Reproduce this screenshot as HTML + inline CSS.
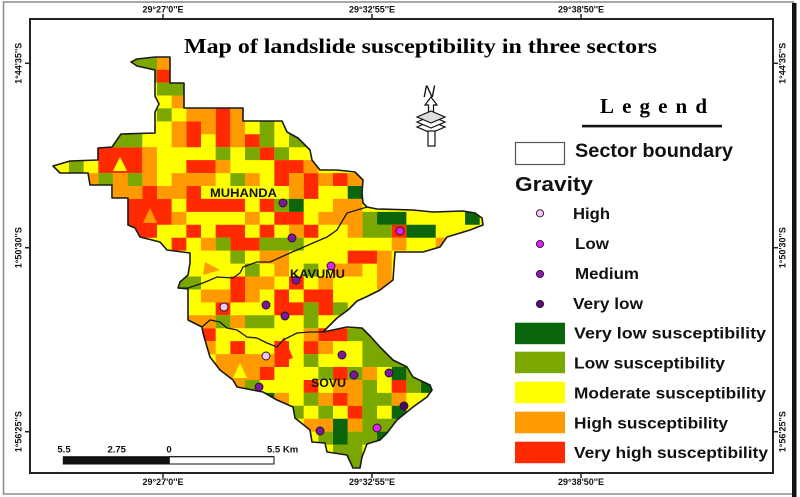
<!DOCTYPE html>
<html>
<head>
<meta charset="utf-8">
<style>
html,body{margin:0;padding:0;background:#fff;}
body{width:800px;height:497px;overflow:hidden;}
svg{display:block;}
.t{font-family:"Liberation Sans",Arial,sans-serif;font-weight:bold;fill:#111;}
.s{font-family:"Liberation Serif","Times New Roman",serif;font-weight:bold;fill:#000;}
</style>
</head>
<body>
<svg width="800" height="497" viewBox="0 0 800 497" xmlns="http://www.w3.org/2000/svg">
<defs>
<clipPath id="mc">
<polygon points="131,62 137,59 155,57 170,57 170,83 184,83 184,108 243,108 243,121 282,121 287,132 298,138 310,150 312,160 320,170 337,170 355,172 363,180 362,193 363,203 367,207 377,209 413,210 433,212 463,211 475,213 482,218 483,225 470,230 447,237 440,247 423,252 395,252 394,266 393,280 380,290 366,297 357,301 348,310 337,318 323,332 347,327 362,328 371,337 380,347 393,360 407,367 413,377 430,385 432,390 427,397 413,407 397,420 387,433 380,440 367,444 362,457 360,468 353,468 347,455 327,452 325,443 312,442 310,430 295,418 293,407 277,400 263,392 237,387 233,380 220,370 210,357 207,347 203,333 202,327 188,320 188,289 178,288 180,282 188,275 190,263 190,253 167,250 160,242 140,237 135,228 128,225 128,198 112,198 112,185 90,185 88,173 60,173 53,166 70,161 98,160 98,148 112,147 121,134 155,133 155,112 159,104 155,96 155,70 137,66"/>
</clipPath>
</defs>

<!-- outer frame -->
<rect x="3.5" y="2" width="790" height="492" fill="none" stroke="#8a8a8a" stroke-width="1.5"/>
<rect x="792" y="3" width="4.5" height="494" fill="#111"/>
<!-- inner frame -->
<rect x="30" y="19" width="743" height="454" fill="none" stroke="#222" stroke-width="2"/>

<!-- ticks -->
<g stroke="#222" stroke-width="1.5">
<line x1="163" y1="14" x2="163" y2="19"/><line x1="372" y1="14" x2="372" y2="19"/><line x1="581" y1="14" x2="581" y2="19"/>
<line x1="163" y1="473" x2="163" y2="478"/><line x1="372" y1="473" x2="372" y2="478"/><line x1="581" y1="473" x2="581" y2="478"/>
<line x1="25" y1="63.3" x2="30" y2="63.3"/><line x1="25" y1="247.7" x2="30" y2="247.7"/><line x1="25" y1="431.7" x2="30" y2="431.7"/>
<line x1="773" y1="63.3" x2="778" y2="63.3"/><line x1="773" y1="247.7" x2="778" y2="247.7"/><line x1="773" y1="431.7" x2="778" y2="431.7"/>
</g>
<g class="t" font-size="9" text-anchor="middle">
<text x="163" y="12.5">29°27'0''E</text>
<text x="372" y="12.5">29°32'55''E</text>
<text x="581" y="12.5">29°38'50''E</text>
<text x="163" y="485">29°27'0''E</text>
<text x="372" y="485">29°32'55''E</text>
<text x="581" y="485">29°38'50''E</text>
<text transform="translate(21.5 63.3) rotate(-90)">1°44'35''S</text>
<text transform="translate(21.5 247.7) rotate(-90)">1°50'30''S</text>
<text transform="translate(21.5 431.7) rotate(-90)">1°56'25''S</text>
<text transform="translate(785.5 63.3) rotate(-90)">1°44'35''S</text>
<text transform="translate(785.5 247.7) rotate(-90)">1°50'30''S</text>
<text transform="translate(785.5 431.7) rotate(-90)">1°56'25''S</text>
</g>

<!-- title -->
<text class="s" x="184" y="53" font-size="21" textLength="473" lengthAdjust="spacingAndGlyphs">Map of landslide susceptibility in three sectors</text>

<!-- map grid -->
<g clip-path="url(#mc)">
<rect x="40" y="50" width="460" height="430" fill="#ffff00"/>
<g transform="translate(54.3 56.7) scale(14.67 12.93)">
<path fill="#ff2a00" d="M7 1h1v1h-1z M11 4h1v1h-1z M9 5h1v1h-1z M11 5h1v1h-1z M9 6h1v1h-1z M11 6h1v1h-1z M13 6h1v1h-1z M3 7h3v1h-3z M14 7h1v1h-1z M3 8h3v1h-3z M9 8h2v1h-2z M15 8h2v1h-2z M15 9h1v1h-1z M17 9h1v1h-1z M19 9h1v1h-1z M6 10h1v1h-1z M9 10h1v1h-1z M17 10h1v1h-1z M5 11h3v1h-3z M9 11h4v1h-4z M14 11h1v1h-1z M4 12h4v1h-4z M15 12h2v1h-2z M5 13h2v1h-2z M9 13h1v1h-1z M11 13h2v1h-2z M14 13h1v1h-1z M17 13h1v1h-1z M23 13h1v1h-1z M8 14h1v1h-1z M12 14h2v1h-2z M20 15h2v1h-2z M12 17h1v1h-1z M16 17h1v1h-1z M12 18h1v1h-1z M15 18h1v1h-1z M17 18h2v1h-2z M11 19h1v1h-1z M15 19h2v1h-2z M18 19h1v1h-1z M10 21h1v1h-1z M18 21h2v1h-2z M12 22h1v1h-1z M15 22h1v1h-1z M17 22h1v1h-1z M15 23h1v1h-1z M14 24h1v1h-1z M19 24h1v1h-1z M17 25h1v1h-1z M23 25h1v1h-1z M19 26h1v1h-1z M20 27h1v1h-1z"/>
<path fill="#ff9a00" d="M7 0h1v1h-1z M8 3h1v1h-1z M9 4h2v1h-2z M12 4h1v1h-1z M8 5h1v1h-1z M10 5h1v1h-1z M12 5h1v1h-1z M8 6h1v1h-1z M12 6h1v1h-1z M6 7h1v1h-1z M6 8h1v1h-1z M11 8h1v1h-1z M17 8h1v1h-1z M1 9h2v1h-2z M4 9h1v1h-1z M6 9h1v1h-1z M8 9h3v1h-3z M13 9h1v1h-1z M16 9h1v1h-1z M18 9h1v1h-1z M20 9h1v1h-1z M4 10h2v1h-2z M7 10h2v1h-2z M16 10h1v1h-1z M19 11h2v1h-2z M8 12h1v1h-1z M13 12h1v1h-1z M18 12h3v1h-3z M16 13h1v1h-1z M20 13h1v1h-1z M10 14h1v1h-1z M23 14h1v1h-1z M26 14h1v1h-1z M14 15h2v1h-2z M22 15h1v1h-1z M15 16h1v1h-1z M19 16h2v1h-2z M22 16h1v1h-1z M13 17h2v1h-2z M18 17h1v1h-1z M22 17h1v1h-1z M10 18h2v1h-2z M13 18h1v1h-1z M9 20h2v1h-2z M12 20h1v1h-1z M17 21h1v1h-1z M10 22h1v1h-1z M18 22h1v1h-1z M11 23h4v1h-4z M11 24h3v1h-3z M21 24h1v1h-1z M12 25h1v1h-1z M19 25h2v1h-2z M15 26h1v1h-1z M18 26h1v1h-1z M20 26h1v1h-1z M23 26h1v1h-1z M17 28h2v1h-2z M20 28h1v1h-1z"/>
<path fill="#7aa800" d="M5 0h2v1h-2z M6 1h1v1h-1z M7 2h2v1h-2z M7 4h1v1h-1z M14 5h1v1h-1z M16 5h1v1h-1z M4 6h2v1h-2z M14 6h1v1h-1z M16 6h2v1h-2z M11 7h1v1h-1z M13 7h1v1h-1z M15 7h1v1h-1z M1 8h1v1h-1z M3 9h1v1h-1z M5 9h1v1h-1z M12 9h1v1h-1z M15 11h1v1h-1z M21 12h1v1h-1z M21 13h2v1h-2z M11 14h1v1h-1z M14 14h3v1h-3z M12 15h1v1h-1z M13 16h1v1h-1z M17 16h1v1h-1z M8 17h2v1h-2z M17 19h1v1h-1z M19 19h1v1h-1z M11 20h1v1h-1z M13 20h2v1h-2z M17 20h1v1h-1z M20 21h2v1h-2z M21 22h2v1h-2z M17 23h1v1h-1z M21 23h3v1h-3z M18 24h1v1h-1z M20 24h1v1h-1z M24 24h1v1h-1z M13 25h1v1h-1z M21 25h1v1h-1z M24 25h1v1h-1z M17 26h1v1h-1z M21 26h2v1h-2z M16 27h1v1h-1z M18 27h1v1h-1z M21 27h1v1h-1z M21 28h3v1h-3z M18 29h1v1h-1z M20 29h2v1h-2z M19 30h2v1h-2z M20 31h1v1h-1z"/>
<path fill="#0b660b" d="M20 10h1v1h-1z M16 11h1v1h-1z M22 12h2v1h-2z M28 12h1v1h-1z M24 13h2v1h-2z M23 24h1v1h-1z M25 25h1v1h-1z M14 26h1v1h-1z M23 27h1v1h-1z M19 28h1v1h-1z M19 29h1v1h-1z M22 29h1v1h-1z M19 31h1v1h-1z"/>
</g>
<!-- triangles -->
<polygon points="120,157 113,171 127,171" fill="#ffff00"/>
<polygon points="150,208 143,223 157,223" fill="#ff9a00"/>
<polygon points="205,262 220,270 203,275" fill="#ff9a00"/>
<polygon points="284,337 293,358 278,363 277,350" fill="#ff2a00"/>
<polygon points="240,363 233,378 247,378" fill="#ffff00"/>
<polygon points="142.3,147.2 157,147.2 142.3,160.1" fill="#ff9a00"/>
</g>

<!-- outline and sector boundaries -->
<polygon fill="none" stroke="#1a1a1a" stroke-width="1.6" stroke-linejoin="round" points="131,62 137,59 155,57 170,57 170,83 184,83 184,108 243,108 243,121 282,121 287,132 298,138 310,150 312,160 320,170 337,170 355,172 363,180 362,193 363,203 367,207 377,209 413,210 433,212 463,211 475,213 482,218 483,225 470,230 447,237 440,247 423,252 395,252 394,266 393,280 380,290 366,297 357,301 348,310 337,318 323,332 347,327 362,328 371,337 380,347 393,360 407,367 413,377 430,385 432,390 427,397 413,407 397,420 387,433 380,440 367,444 362,457 360,468 353,468 347,455 327,452 325,443 312,442 310,430 295,418 293,407 277,400 263,392 237,387 233,380 220,370 210,357 207,347 203,333 202,327 188,320 188,289 178,288 180,282 188,275 190,263 190,253 167,250 160,242 140,237 135,228 128,225 128,198 112,198 112,185 90,185 88,173 60,173 53,166 70,161 98,160 98,148 112,147 121,134 155,133 155,112 159,104 155,96 155,70 137,66"/>
<polyline fill="none" stroke="#1a1a1a" stroke-width="1.3" points="178,288 188,288 203,283 217,277 233,278 240,273 243,267 257,262 270,262 290,253 313,243 327,237 337,230 347,213 367,207"/>
<polyline fill="none" stroke="#1a1a1a" stroke-width="1.3" points="202,327 210,320 220,322 227,328 237,330 247,337 257,338 267,343 277,347 283,340 297,333 310,332 323,332"/>

<!-- gravity points -->
<g stroke="#2a1030" stroke-width="0.9">
<circle cx="283" cy="203" r="4" fill="#7a1a9a"/>
<circle cx="292" cy="238" r="4" fill="#7a1a9a"/>
<circle cx="400" cy="231" r="4" fill="#dd22ee"/>
<circle cx="331" cy="266" r="4" fill="#dd22ee"/>
<circle cx="296" cy="280" r="4" fill="#7a1a9a"/>
<circle cx="224" cy="307" r="4" fill="#f2c8f2"/>
<circle cx="266" cy="305" r="4" fill="#7a1a9a"/>
<circle cx="285" cy="316" r="4" fill="#7a1a9a"/>
<circle cx="266" cy="356" r="4" fill="#f2c8f2"/>
<circle cx="342" cy="355" r="4" fill="#7a1a9a"/>
<circle cx="354" cy="375" r="4" fill="#7a1a9a"/>
<circle cx="389" cy="373" r="4" fill="#7a1a9a"/>
<circle cx="259" cy="387" r="4" fill="#7a1a9a"/>
<circle cx="404" cy="406" r="4" fill="#4a0a6a"/>
<circle cx="320" cy="431" r="4" fill="#7a1a9a"/>
<circle cx="377" cy="428" r="4" fill="#dd22ee"/>
</g>

<!-- sector labels -->
<text class="t" x="210" y="197" font-size="11.5" textLength="67" lengthAdjust="spacingAndGlyphs">MUHANDA</text>
<text class="t" x="290" y="278" font-size="11.5" textLength="55" lengthAdjust="spacingAndGlyphs">KAVUMU</text>
<text class="t" x="311" y="387" font-size="12" textLength="35" lengthAdjust="spacingAndGlyphs">SOVU</text>

<!-- north arrow -->
<text x="423" y="97" font-family="Liberation Sans, sans-serif" font-style="italic" font-size="17" fill="#111">N</text>
<polygon points="431,97 425,105 428.5,105 428.5,113 433.5,113 433.5,105 437,105" fill="#fff" stroke="#111" stroke-width="1.2"/>
<g fill="#fff" stroke="#111" stroke-width="1.2">
<polygon points="417,127 431,121 445,127 431,133"/>
<polygon points="417,122 431,116 445,122 431,128"/>
<polygon points="417,117 431,111 445,117 431,123" fill="#ddd"/>
<rect x="428" y="131" width="7" height="15"/>
</g>

<!-- legend -->
<text class="s" x="600" y="113" font-size="21" textLength="107" lengthAdjust="spacing">Legend</text>
<rect x="582" y="124.8" width="140" height="2.6" fill="#111"/>
<rect x="515.5" y="142.5" width="49" height="22" fill="#fff" stroke="#555" stroke-width="1.2"/>
<text class="t" x="575" y="157" font-size="19" textLength="158" lengthAdjust="spacingAndGlyphs">Sector boundary</text>
<text class="t" x="515" y="191" font-size="20" textLength="78" lengthAdjust="spacingAndGlyphs">Gravity</text>
<g stroke="#2a1030" stroke-width="0.9">
<circle cx="540" cy="213.3" r="3.6" fill="#f2c8f2"/>
<circle cx="540" cy="244" r="3.6" fill="#dd22ee"/>
<circle cx="540" cy="274" r="3.6" fill="#8c1aa8"/>
<circle cx="540" cy="304" r="3.6" fill="#5a0d7a"/>
</g>
<text class="t" x="573" y="219" font-size="15.5" textLength="37" lengthAdjust="spacingAndGlyphs">High</text>
<text class="t" x="575" y="249" font-size="15.5" textLength="34" lengthAdjust="spacingAndGlyphs">Low</text>
<text class="t" x="575" y="279" font-size="15.5" textLength="64" lengthAdjust="spacingAndGlyphs">Medium</text>
<text class="t" x="573" y="309" font-size="15.5" textLength="70" lengthAdjust="spacingAndGlyphs">Very low</text>

<rect x="515" y="322.7" width="50" height="21.5" fill="#0b660b"/>
<rect x="515" y="351.7" width="50" height="21.5" fill="#7aa800"/>
<rect x="515" y="381.7" width="50" height="21.5" fill="#ffff00"/>
<rect x="515" y="411.7" width="50" height="21.5" fill="#ff9a00"/>
<rect x="515" y="441.7" width="50" height="21.5" fill="#ff2a00"/>
<text class="t" x="574" y="338.5" font-size="16" textLength="192" lengthAdjust="spacingAndGlyphs">Very low  susceptibility</text>
<text class="t" x="574" y="368.5" font-size="16" textLength="151" lengthAdjust="spacingAndGlyphs">Low susceptibility</text>
<text class="t" x="574" y="398.5" font-size="16" textLength="192" lengthAdjust="spacingAndGlyphs">Moderate susceptibility</text>
<text class="t" x="574" y="428.5" font-size="16" textLength="154" lengthAdjust="spacingAndGlyphs">High susceptibility</text>
<text class="t" x="574" y="458" font-size="16" textLength="194" lengthAdjust="spacingAndGlyphs">Very  high susceptibility</text>

<!-- scale bar -->
<rect x="63.3" y="456.7" width="106" height="7.3" fill="#111"/>
<rect x="169.3" y="456.7" width="104.7" height="7.3" fill="#fff" stroke="#111" stroke-width="1"/>
<rect x="63.3" y="456.7" width="210.7" height="7.3" fill="none" stroke="#111" stroke-width="1"/>
<g class="t" font-size="9.5">
<text x="64" y="452.5" text-anchor="middle">5.5</text>
<text x="116.7" y="452.5" text-anchor="middle">2.75</text>
<text x="169" y="452.5" text-anchor="middle">0</text>
<text x="267" y="452.5">5.5 Km</text>
</g>
</svg>
</body>
</html>
